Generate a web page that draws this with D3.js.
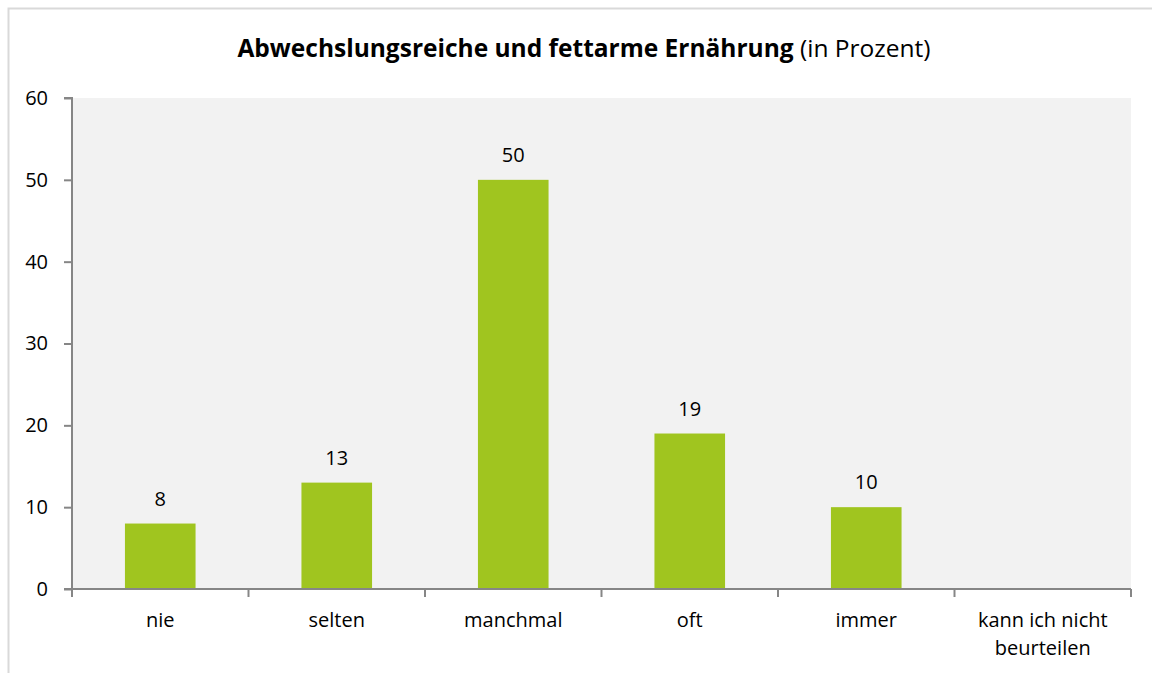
<!doctype html>
<html>
<head>
	<meta charset="utf-8">
	<title>Abwechslungsreiche und fettarme Ernährung</title>
	<script src="https://d3js.org/d3.v7.min.js"></script>
	<style>
		body { margin: 0; background: #fff; }
		text { font-family: "Open Sans", "Liberation Sans", sans-serif; fill: #000; }
	</style>
</head>
<body>
	<script>
		// chart data
		var categories = ["nie", "selten", "manchmal", "oft", "immer", "kann ich nicht beurteilen"];
		var values = [8, 13, 50, 19, 10, null];
		var yTicks = [0, 10, 20, 30, 40, 50, 60];

		var width = 1152;
		var height = 673;
		var plot = { left: 72, top: 98, right: 1131, bottom: 589 };

		var svg = d3.select("body")
			.append("svg")
			.attr("width", width)
			.attr("height", height);

		// outer frame
		svg.append("path")
			.attr("d", "M8.5," + height + "V8.5H" + width)
			.attr("fill", "none")
			.attr("stroke", "#d9d9d9")
			.attr("stroke-width", 2);

		var x = d3.scaleBand()
			.domain(categories)
			.range([plot.left, plot.right])
			.padding(0);

		var y = d3.scaleLinear()
			.domain([0, 60])
			.range([plot.bottom, plot.top]);

		// plot background
		svg.append("rect")
			.attr("x", plot.left)
			.attr("y", plot.top)
			.attr("width", plot.right - plot.left)
			.attr("height", plot.bottom - plot.top)
			.attr("fill", "#f2f2f2");

		// title
		var title = svg.append("text")
			.attr("x", 584)
			.attr("y", 57)
			.attr("text-anchor", "middle")
			.style("font-size", "24.5px");
		title.append("tspan").attr("font-weight", "bold").text("Abwechslungsreiche und fettarme Ernährung");
		title.append("tspan").text(" (in Prozent)");

		// bars
		var barW = x.bandwidth() * 0.4;
		var data = categories.map(function (c, i) { return { cat: c, value: values[i] }; })
			.filter(function (d) { return d.value != null; });

		svg.selectAll("rect.bar")
			.data(data)
			.enter()
			.append("rect")
			.attr("class", "bar")
			.attr("x", function (d) { return x(d.cat) + (x.bandwidth() - barW) / 2; })
			.attr("y", function (d) { return y(d.value); })
			.attr("width", barW)
			.attr("height", function (d) { return y(0) - y(d.value); })
			.attr("fill", "#a0c51f");

		svg.selectAll("text.val")
			.data(data)
			.enter()
			.append("text")
			.attr("class", "val")
			.attr("x", function (d) { return x(d.cat) + x.bandwidth() / 2; })
			.attr("y", function (d) { return y(d.value) - 18; })
			.attr("text-anchor", "middle")
			.style("font-size", "20px")
			.text(function (d) { return d.value; });

		// y axis
		var yAxis = d3.axisLeft(y)
			.tickValues(yTicks)
			.tickSize(8)
			.tickPadding(16);
		var gy = svg.append("g")
			.attr("transform", "translate(" + plot.left + ",0)")
			.call(yAxis);
		gy.select(".domain").attr("stroke", "#868686").attr("stroke-width", 2).attr("d", "M-8," + plot.top + "H0V" + plot.bottom + "H-8");
		gy.selectAll(".tick line").attr("stroke", "#868686").attr("stroke-width", 2);
		gy.selectAll(".tick text").style("font-size", "20px").attr("fill", "#000");

		// x axis: ticks at band boundaries
		var gx = svg.append("g")
			.attr("transform", "translate(0," + plot.bottom + ")");
		gx.append("line")
			.attr("x1", plot.left)
			.attr("x2", plot.right)
			.attr("stroke", "#868686")
			.attr("stroke-width", 2);
		var bounds = categories.map(function (c) { return x(c); }).concat([plot.right]);
		gx.selectAll("line.tick")
			.data(bounds)
			.enter()
			.append("line")
			.attr("class", "tick")
			.attr("x1", function (d) { return d; })
			.attr("x2", function (d) { return d; })
			.attr("y1", 0)
			.attr("y2", 8)
			.attr("stroke", "#868686")
			.attr("stroke-width", 2);

		var labels = gx.selectAll("text.lab")
			.data(categories)
			.enter()
			.append("text")
			.attr("class", "lab")
			.attr("text-anchor", "middle")
			.style("font-size", "20px");
		labels.each(function (d) {
			var lines = d === "kann ich nicht beurteilen" ? ["kann ich nicht", "beurteilen"] : [d];
			var t = d3.select(this);
			lines.forEach(function (l, i) {
				t.append("tspan")
					.attr("x", x(d) + x.bandwidth() / 2)
					.attr("y", 38 + i * 28)
					.text(l);
			});
		});
	</script>
</body>
</html>
